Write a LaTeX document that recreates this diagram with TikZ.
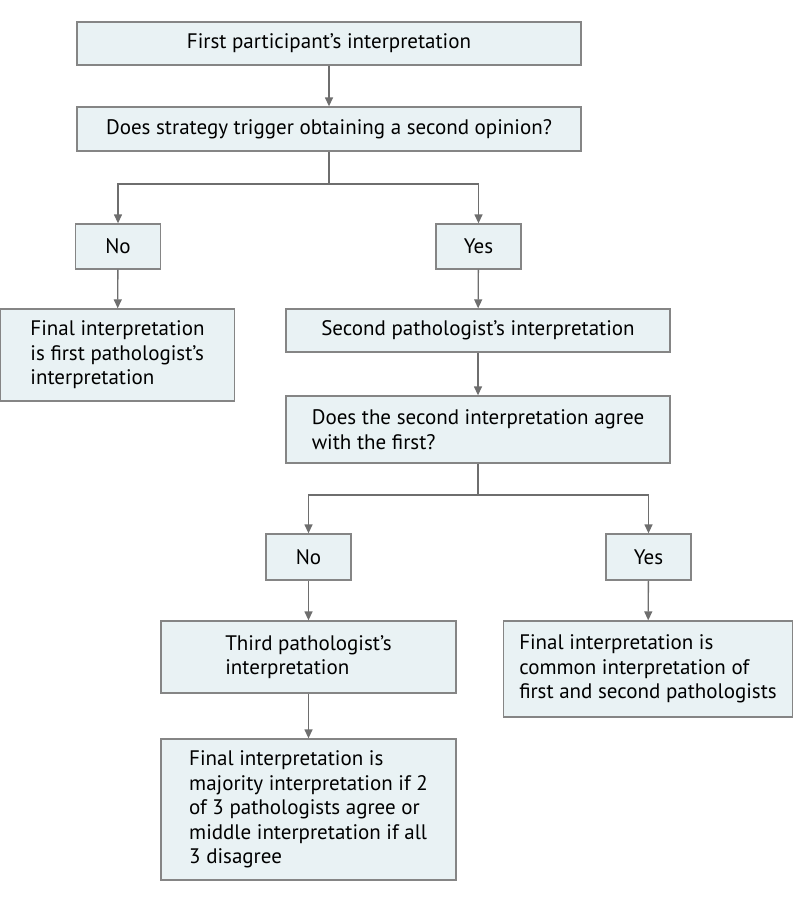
\documentclass[tikz,border=0pt]{standalone}
\usepackage{fontspec}
\setmainfont{PT Sans}
\usetikzlibrary{arrows.meta}
\definecolor{boxfill}{HTML}{E9F2F4}
\definecolor{boxline}{HTML}{858585}
\definecolor{arrowgray}{HTML}{6E6E6E}

\begin{document}
\begin{tikzpicture}[x=1pt,y=-1pt]
\tikzset{box/.style = {draw=boxline, fill=boxfill, line width=1.3pt, align=left, inner sep=0pt,
    font=\fontsize{21}{24.5}\selectfont}}
\tikzset{edge/.style = {draw=arrowgray, line width=1.3pt, -{Triangle[width=8pt,length=9pt]}}}

\useasboundingbox (0,0) rectangle (794,902);

\node[box, minimum width=504, minimum height=43] (first)   at (329,43.5)  {First participant’s interpretation};
\node[box, minimum width=504, minimum height=44] (trigger) at (329,129)   {Does strategy trigger obtaining a second opinion?};
\node[box, minimum width=85,  minimum height=45] (noA)     at (118,246.5) {No};
\node[box, minimum width=85,  minimum height=45] (yesA)    at (478.5,246.5) {Yes};
\node[box, minimum width=234, minimum height=92] (firstfin) at (117.5,355) {Final interpretation\\is first pathologist’s\\interpretation};
\node[box, minimum width=384, minimum height=43] (second)  at (478,330.5) {Second pathologist’s interpretation};
\node[box, minimum width=384, minimum height=67] (agree)   at (478,429.5) {Does the second interpretation agree\\with the first?};
\node[box, minimum width=85,  minimum height=46] (noB)     at (308.5,557) {No};
\node[box, minimum width=85,  minimum height=46] (yesB)    at (648.5,557) {Yes};
\node[box, minimum width=295, minimum height=72] (third)   at (308.5,657) {Third pathologist’s\\interpretation};
\node[box, minimum width=295, minimum height=141] (majority) at (308.5,809.5) {Final interpretation is\\majority interpretation if 2\\of 3 pathologists agree or\\middle interpretation if all\\3 disagree};
\node[box, minimum width=289, minimum height=96] (common)  at (648,669)   {Final interpretation is\\common interpretation of\\first and second pathologists};

\coordinate (splitA) at (329,184);
\coordinate (splitB) at (478,495);

\draw[edge] (first) -- (trigger);
\draw[draw=arrowgray, line width=1.3pt] (trigger) -- (splitA);
\draw[edge] (splitA) -| (noA);
\draw[edge] (splitA) -| (yesA);
\draw[edge] (noA) -- (firstfin);
\draw[edge] (yesA) -- (second);
\draw[edge] (second) -- (agree);
\draw[draw=arrowgray, line width=1.3pt] (agree) -- (splitB);
\draw[edge] (splitB) -| (noB);
\draw[edge] (splitB) -| (yesB);
\draw[edge] (noB) -- (third);
\draw[edge] (third) -- (majority);
\draw[edge] (yesB) -- (common);
\end{tikzpicture}
\end{document}
